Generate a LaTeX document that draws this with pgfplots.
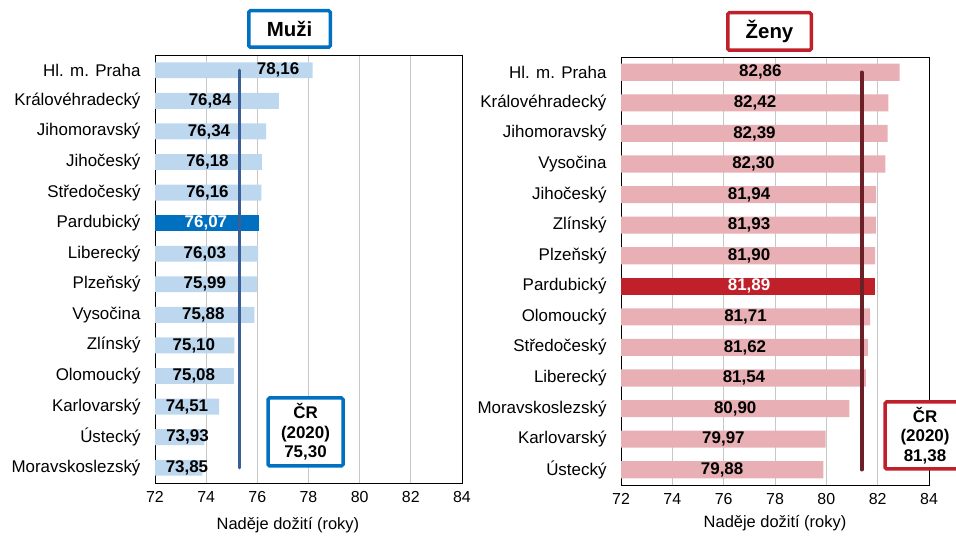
\documentclass[border=0pt]{standalone}
\usepackage{pgfplots}
\usepackage{pgfplotstable}
\pgfplotsset{compat=1.18}
\usepackage{fontspec}
\setmainfont{Liberation Sans}

\definecolor{mlight}{HTML}{BDD7EE}
\definecolor{mdark}{HTML}{0070C0}
\definecolor{mline}{HTML}{3A5F96}
\definecolor{zlight}{HTML}{E8B0B4}
\definecolor{zdark}{HTML}{C0202A}
\definecolor{zline}{HTML}{6B1F27}

% y index, value, label x position, label
\pgfplotstableread{
y val lx lbl
0 78.16 76.81 78,16
1 76.84 74.15 76,84
2 76.34 74.11 76,34
3 76.18 74.05 76,18
4 76.16 74.05 76,16
6 76.03 73.95 76,03
7 75.99 73.95 75,99
8 75.88 73.89 75,88
9 75.10 73.52 75,10
10 75.08 73.52 75,08
11 74.51 73.25 74,51
12 73.93 73.27 73,93
13 73.85 73.25 73,85
}\muzi
\pgfplotstableread{
y val lx lbl
5 76.07 73.99 76,07
}\muzihl

\pgfplotstableread{
y val lx lbl
0 82.86 77.43 82,86
1 82.42 77.22 82,42
2 82.39 77.20 82,39
3 82.30 77.16 82,30
4 81.94 76.99 81,94
5 81.93 76.99 81,93
6 81.90 76.99 81,90
8 81.71 76.85 81,71
9 81.62 76.83 81,62
10 81.54 76.79 81,54
11 80.90 76.45 80,90
12 79.97 75.99 79,97
13 79.88 75.94 79,88
}\zeny
\pgfplotstableread{
y val lx lbl
7 81.89 76.99 81,89
}\zenyhl

\pgfplotsset{panel/.style={
  scale only axis,
  xmin=72, xmax=84, ymin=-0.5, ymax=13.5, y dir=reverse,
  xtick={72,74,...,84}, ytick={0,...,13},
  xmajorgrids, major grid style={draw=black!22, line width=0.8bp},
  major tick length=0pt,
  axis line style={line width=1bp},
  /pgf/number format/assume math mode=true,
  xticklabel style={font=\fontsize{16}{16}\selectfont, yshift=-5bp},
  yticklabel style={font=\fontsize{17}{17}\selectfont, xshift=-11bp},
  xlabel={Naděje dožití (roky)},
  clip=true,
}}
\tikzset{vlab/.style={font=\bfseries\fontsize{17}{17}\selectfont, anchor=center, inner sep=0pt}}

\begin{document}
\begin{tikzpicture}[x=1bp,y=1bp]
\useasboundingbox (0,0) rectangle (956bp,536bp);

\begin{axis}[panel, at={(155bp,53bp)}, anchor=south west, width=307bp, height=428bp,
  yticklabels={Hl. m. Praha,Královéhradecký,Jihomoravský,Jihočeský,Středočeský,Pardubický,Liberecký,Plzeňský,Vysočina,Zlínský,Olomoucký,Karlovarský,Ústecký,Moravskoslezský},
  xlabel style={font=\fontsize{16.5}{16.5}\selectfont, at={(axis description cs:0.433,0)}, anchor=center, yshift=-42bp}]
\addplot[xbar, bar width=0.52, bar shift=0pt, fill=mlight, draw=none] table[x=val,y=y]{\muzi};
\addplot[xbar, bar width=0.52, bar shift=0pt, fill=mdark, draw=none] table[x=val,y=y]{\muzihl};
\addplot[draw=mline, line width=3.5bp, line cap=round] coordinates {(75.30,0) (75.30,13)};
\addplot[draw=none, mark=none, nodes near coords, point meta=explicit symbolic,
  nodes near coords align=center, every node near coord/.append style={vlab, text=black}]
  table[x=lx,y=y,meta=lbl]{\muzi};
\addplot[draw=none, mark=none, nodes near coords, point meta=explicit symbolic,
  nodes near coords align=center, every node near coord/.append style={vlab, text=white}]
  table[x=lx,y=y,meta=lbl]{\muzihl};
\end{axis}

\begin{axis}[panel, at={(621bp,51bp)}, anchor=south west, width=308bp, height=428bp,
  yticklabels={Hl. m. Praha,Královéhradecký,Jihomoravský,Vysočina,Jihočeský,Zlínský,Plzeňský,Pardubický,Olomoucký,Středočeský,Liberecký,Moravskoslezský,Karlovarský,Ústecký},
  xlabel style={font=\fontsize{16.5}{16.5}\selectfont, at={(axis description cs:0.5,0)}, anchor=center, yshift=-38bp}]
\addplot[xbar, bar width=0.56, bar shift=0pt, fill=zlight, draw=none] table[x=val,y=y]{\zeny};
\addplot[xbar, bar width=0.56, bar shift=0pt, fill=zdark, draw=none] table[x=val,y=y]{\zenyhl};
\addplot[draw=zline, line width=3.5bp, line cap=round] coordinates {(81.38,0) (81.38,13)};
\addplot[draw=none, mark=none, nodes near coords, point meta=explicit symbolic,
  nodes near coords align=center, every node near coord/.append style={vlab, text=black}]
  table[x=lx,y=y,meta=lbl]{\zeny};
\addplot[draw=none, mark=none, nodes near coords, point meta=explicit symbolic,
  nodes near coords align=center, every node near coord/.append style={vlab, text=white}]
  table[x=lx,y=y,meta=lbl]{\zenyhl};
\end{axis}

% titles
\node[draw=mdark, line width=3.5bp, rounded corners=1.5bp, fill=white, minimum width=81.5bp, minimum height=36.5bp, inner sep=0pt,
  font=\bfseries\fontsize{20.5}{20.5}\selectfont] at (289.5bp,507bp) {Muži};
\node[draw=zdark, line width=3.5bp, rounded corners=1.5bp, fill=white, minimum width=83.5bp, minimum height=37.5bp, inner sep=0pt,
  font=\bfseries\fontsize{20.5}{20.5}\selectfont] at (769.5bp,504.5bp) {Ženy};

% national values
\node[draw=mdark, line width=3.5bp, rounded corners=1.5bp, fill=white, minimum width=75bp, minimum height=68bp, inner sep=0pt, align=center,
  font=\bfseries\fontsize{17}{19.5}\selectfont] at (305.5bp,104bp) {ČR\\(2020)\\75,30};
\node[draw=zdark, line width=3.5bp, rounded corners=1.5bp, fill=white, minimum width=80bp, minimum height=67bp, inner sep=0pt, align=center,
  font=\bfseries\fontsize{17}{19.5}\selectfont] at (925bp,100.5bp) {ČR\\(2020)\\81,38};
\end{tikzpicture}
\end{document}
